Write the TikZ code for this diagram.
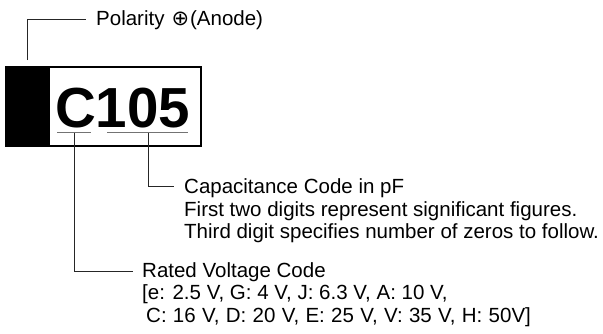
\documentclass[tikz,border=0pt]{standalone}
\usepackage{fontspec}
\setmainfont{Liberation Sans}
\newfontfamily\symfont{DejaVu Sans}
\begin{document}
\begin{tikzpicture}[x=1pt,y=-1pt,
  lbl/.style={anchor=base west,inner sep=0pt,font=\fontsize{20.5}{24}\selectfont},
  conn/.style={draw=black!85,line width=0.8pt},
  uline/.style={draw=black!55,line width=1.2pt}]
\useasboundingbox (0,0) rectangle (603,333);
% box
\fill[black] (6,67) rectangle (50,146);
\draw[line width=2pt] (6,67) rectangle (201,146);
\node[anchor=base west,inner sep=0pt,font=\bfseries\fontsize{56.5}{60}\selectfont] (code) at (55,127) {C105};
% underlines
\coordinate (uCa) at (57,132.5); \coordinate (uCb) at (91,132.5);
\coordinate (uNa) at (107,132.5); \coordinate (uNb) at (188,132.5);
\draw[uline] (uCa) -- (uCb);
\draw[uline] (uNa) -- (uNb);
\coordinate (uCm) at (74,132.5);
\coordinate (uNm) at (148,132.5);
% labels
\node[lbl] (pol) at (96,25) {Polarity\hspace{7pt}{\symfont\fontsize{21}{21}\selectfont ⊕}\hspace{1pt}(Anode)};
\node[lbl] (cap1) at (184,193.5) {Capacitance Code in pF};
\node[lbl] (cap2) at (184,216) {First two digits represent significant figures.};
\node[lbl] (cap3) at (184,238.5) {Third digit specifies number of zeros to follow.};
\node[lbl] (rv1) at (142,277) {Rated Voltage Code};
\node[lbl] (rv2) at (142,299.5) {[e: 2.5 V, G: 4 V, J: 6.3 V, A: 10 V,};
\node[lbl] (rv3) at (142,322) {\spaceskip=6.3pt\hspace{4pt}C: 16 V, D: 20 V, E: 25 V, V: 35 V, H: 50V]};
% connectors
\coordinate (polA) at (27,60); \coordinate (polB) at (86,19);
\draw[conn] (polA) |- (polB);
\coordinate (capE) at (174,186);
\draw[conn] (uNm) |- (capE);
\coordinate (rvE) at (133,271);
\draw[conn] (uCm) |- (rvE);
\end{tikzpicture}
\end{document}
